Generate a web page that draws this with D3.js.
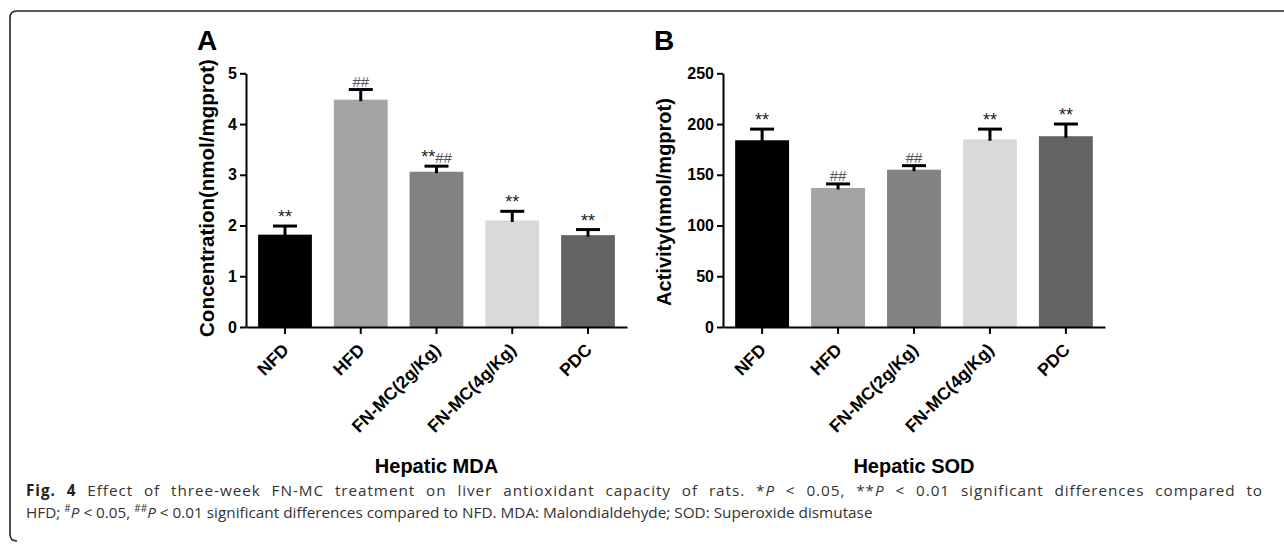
<!DOCTYPE html>
<html>
<head>
<meta charset="utf-8">
<script src="https://cdn.jsdelivr.net/npm/d3@7/dist/d3.min.js"></script>
<style>
  html, body { margin: 0; padding: 0; background: #fff; }
  svg { display: block; }
</style>
</head>
<body>
<svg id="chart" width="1284" height="546"></svg>
<script>
// ---- data ----
const categories = ["NFD", "HFD", "FN-MC(2g/Kg)", "FN-MC(4g/Kg)", "PDC"];
const barColors = ["#000000", "#a4a4a4", "#828282", "#d9d9d9", "#636363"];

const mdaValues = [1.82, 4.48, 3.06, 2.10, 1.81];
const mdaErrors = [0.17, 0.20, 0.11, 0.18, 0.11];
const mdaMarks  = ["**", "##", "**##", "**", "**"];
const mdaTicks  = [0, 1, 2, 3, 4, 5];

const sodValues = [184, 137, 155, 185, 188];
const sodErrors = [11, 4, 4, 10, 12];
const sodMarks  = ["**", "##", "##", "**", "**"];
const sodTicks  = [0, 50, 100, 150, 200, 250];

const svg = d3.select("#chart");
const FONT = "'Liberation Sans', Arial, sans-serif";

// ---- frame ----
svg.append("path")
  .attr("d", "M17,541 Q10,541 10,534 L10,18 Q10,11 17,11 L1284,11")
  .attr("fill", "none").attr("stroke", "#222").attr("stroke-width", 1.6);

function panel(cfg) {
  const g = svg.append("g");
  const x = d3.scaleBand().domain(categories)
    .range([cfg.x0, cfg.x1]).paddingInner(0.29).paddingOuter(0.16);
  const y = d3.scaleLinear().domain([0, cfg.ticks[cfg.ticks.length - 1]])
    .range([cfg.yBottom, cfg.yTop]);

  // bars
  g.selectAll("rect.bar").data(cfg.values).join("rect")
    .attr("class", "bar")
    .attr("x", (d, i) => x(categories[i]))
    .attr("width", x.bandwidth())
    .attr("y", d => y(d))
    .attr("height", d => y(0) - y(d))
    .attr("fill", (d, i) => barColors[i]);

  // error bars
  const eb = g.selectAll("g.err").data(cfg.values).join("g").attr("class", "err");
  eb.append("line")
    .attr("x1", (d, i) => x(categories[i]) + x.bandwidth() / 2)
    .attr("x2", (d, i) => x(categories[i]) + x.bandwidth() / 2)
    .attr("y1", d => y(d) + 1.5)
    .attr("y2", (d, i) => y(d + cfg.errors[i]))
    .attr("stroke", "#000").attr("stroke-width", 3);
  eb.append("line")
    .attr("x1", (d, i) => x(categories[i]) + x.bandwidth() / 2 - 12)
    .attr("x2", (d, i) => x(categories[i]) + x.bandwidth() / 2 + 12)
    .attr("y1", (d, i) => y(d + cfg.errors[i]))
    .attr("y2", (d, i) => y(d + cfg.errors[i]))
    .attr("stroke", "#000").attr("stroke-width", 3);

  // significance marks
  cfg.marks.forEach((m, i) => {
    const t = g.append("text")
      .attr("x", x(categories[i]) + x.bandwidth() / 2)
      .attr("y", y(cfg.values[i] + cfg.errors[i]) - 3)
      .attr("text-anchor", "middle")
      .attr("font-family", FONT)
      .attr("font-size", 16);
    const runs = m.match(/(\*+|#+)/g);
    runs.forEach(r => {
      t.append("tspan").text(r)
        .attr("fill", r[0] === "*" ? "#222" : "#555")
        .attr("font-size", r[0] === "*" ? 18 : 15);
    });
  });

  // y axis
  const yAxis = g.append("g")
    .attr("transform", `translate(${cfg.x0},0)`)
    .call(d3.axisLeft(y).tickValues(cfg.ticks).tickFormat(d => d)
      .tickSize(6).tickSizeOuter(0).tickPadding(3));
  yAxis.select(".domain").attr("stroke", "#000").attr("stroke-width", 2);
  yAxis.selectAll(".tick line").attr("stroke", "#000").attr("stroke-width", 2);
  yAxis.selectAll(".tick text").attr("font-family", FONT).attr("font-weight", "bold")
    .attr("font-size", 16).attr("fill", "#000");

  // x axis
  const xAxis = g.append("g")
    .attr("transform", `translate(0,${cfg.yBottom})`)
    .call(d3.axisBottom(x).tickSize(7).tickSizeOuter(0).tickFormat(""));
  xAxis.select(".domain").attr("stroke", "#000").attr("stroke-width", 2);
  xAxis.selectAll(".tick line").attr("stroke", "#000").attr("stroke-width", 2);

  // rotated category labels
  g.selectAll("text.cat").data(categories).join("text")
    .attr("class", "cat")
    .attr("transform", d => `translate(${x(d) + x.bandwidth() / 2 + 5},${cfg.yBottom + 24}) rotate(-45)`)
    .attr("text-anchor", "end")
    .attr("font-family", FONT).attr("font-weight", "bold").attr("font-size", 17.5)
    .text(d => d);

  // y title
  g.append("text")
    .attr("transform", `translate(${cfg.titleX},${cfg.titleY}) rotate(-90)`)
    .attr("text-anchor", "middle")
    .attr("font-family", FONT).attr("font-weight", "bold").attr("font-size", cfg.titleSize)
    .text(cfg.yTitle);

  // panel letter
  g.append("text")
    .attr("x", cfg.letterX).attr("y", 50)
    .attr("font-family", FONT).attr("font-weight", "bold").attr("font-size", 28)
    .text(cfg.letter);

  // x title
  g.append("text")
    .attr("x", (cfg.x0 + cfg.x1) / 2).attr("y", 473)
    .attr("text-anchor", "middle")
    .attr("font-family", FONT).attr("font-weight", "bold").attr("font-size", 20)
    .text(cfg.xTitle);
}

panel({
  x0: 246, x1: 627, yTop: 73.3, yBottom: 327,
  ticks: mdaTicks, values: mdaValues, errors: mdaErrors, marks: mdaMarks,
  yTitle: "Concentration(nmol/mgprot)", titleX: 214, titleY: 198, titleSize: 20.5,
  letter: "A", letterX: 197, xTitle: "Hepatic MDA"
});
panel({
  x0: 723, x1: 1105, yTop: 73.3, yBottom: 327,
  ticks: sodTicks, values: sodValues, errors: sodErrors, marks: sodMarks,
  yTitle: "Activity(nmol/mgprot)", titleX: 671, titleY: 202, titleSize: 20,
  letter: "B", letterX: 654, xTitle: "Hepatic SOD"
});

// ---- caption ----
const CAP = "'Open Sans', 'Noto Sans', sans-serif";
function capLine(y, parts, target) {
  const t = svg.append("text").attr("x", 26).attr("y", y)
    .attr("font-family", CAP).attr("font-size", 15.3).attr("fill", "#333");
  parts.forEach(p => {
    const s = t.append("tspan").text(p.t);
    if (p.b) s.attr("font-weight", "bold").attr("fill", "#222");
    if (p.i) s.attr("font-style", "italic");
    if (p.sup) s.attr("font-size", 10).attr("dy", -6);
    if (p.after) s.attr("dy", 6);
  });
  if (target) {
    const len = t.node().getComputedTextLength();
    const str = parts.map(p => p.t).join("");
    const spaces = str.split(" ").length - 1;
    const extra = target - len;
    t.attr("letter-spacing", 0.5 * extra / (str.length - 1));
    t.attr("word-spacing", 0.5 * extra / spaces);
  }
}
capLine(496, [
  { t: "Fig. 4", b: true },
  { t: " Effect of three-week FN-MC treatment on liver antioxidant capacity of rats. *" },
  { t: "P", i: true },
  { t: " < 0.05, **" },
  { t: "P", i: true },
  { t: " < 0.01 significant differences compared to" }
], 1236);
capLine(518, [
  { t: "HFD; " },
  { t: "#", sup: true },
  { t: "P", i: true, after: true },
  { t: " < 0.05, " },
  { t: "##", sup: true },
  { t: "P", i: true, after: true },
  { t: " < 0.01 significant differences compared to NFD. MDA: Malondialdehyde; SOD: Superoxide dismutase" }
], null);
</script>
</body>
</html>
